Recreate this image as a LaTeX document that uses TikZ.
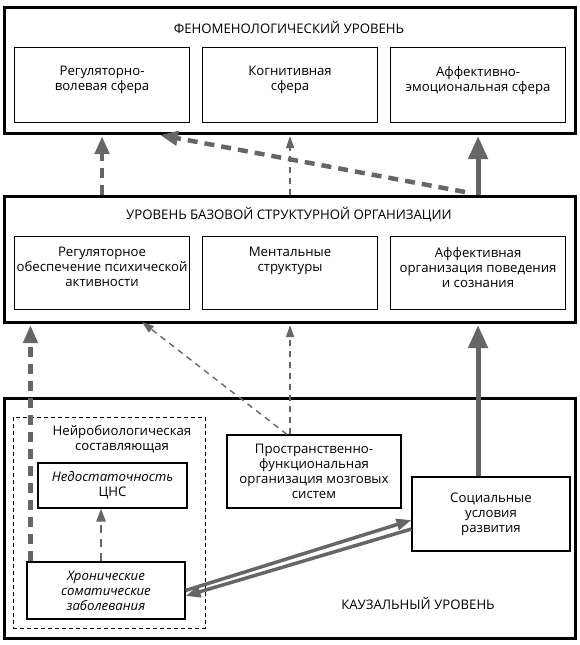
\documentclass[tikz,border=0pt]{standalone}
\usepackage{fontspec}
\setmainfont{Open Sans}
\usepackage{xcolor}
\usepackage{tikz}
\usetikzlibrary{positioning,arrows.meta,calc}
\definecolor{arrgray}{RGB}{102,102,102}

\begin{document}
\begin{tikzpicture}[x=1pt, y=-1pt,
    font=\fontsize{13.2}{15}\selectfont,
    levelbox/.style={draw, line width=2.6pt, anchor=north west, inner sep=0, minimum width=571},
    sphbox/.style={draw, line width=1.1pt, anchor=north west, inner sep=0, minimum width=175, minimum height=75},
    orgbox/.style={sphbox, minimum height=73},
    causebox/.style={draw, line width=1.1pt, align=center, inner sep=0},
    boxtext/.style={align=center, inner sep=0},
    bigdash/.style={draw=arrgray, line width=4.5pt, dash pattern=on 10pt off 7pt, -{Triangle[length=18pt,width=14pt]}},
    thindash/.style={draw=arrgray, line width=1.4pt, dash pattern=on 6pt off 5pt, -{Triangle[length=12pt,width=8pt]}},
    middash/.style={draw=arrgray, line width=2.5pt, dash pattern=on 8pt off 6pt, -{Triangle[length=13pt,width=9pt]}},
    bigsolid/.style={draw=arrgray, line width=5pt, -{Triangle[length=23pt,width=19pt]}},
    twin/.style={draw=arrgray, line width=3.5pt, -{Triangle[length=15pt,width=11pt]}}]
    \useasboundingbox (0,0) rectangle (580,645);

    \node[levelbox, minimum height=126] (phen) at (3,6) {};
    \node[boxtext] (phenT) at (289,28) {ФЕНОМЕНОЛОГИЧЕСКИЙ УРОВЕНЬ};
    \node[sphbox] (volSph) at (14,47) {};
    \node[sphbox] (kogSph) at (202,47) {};
    \node[sphbox] (affSph) at (390,47) {};
    \node[boxtext, below=19pt of volSph.north] (volT) {Регуляторно-\\волевая сфера};
    \node[boxtext, below=19pt of kogSph.north] (kogT) {Когнитивная\\сфера};
    \node[boxtext, below=19pt of affSph.north] (affT) {Аффективно-\\эмоциональная сфера};

    \node[levelbox, minimum height=126] (basic) at (3,195) {};
    \node[boxtext] (basicT) at (289,215) {УРОВЕНЬ БАЗОВОЙ СТРУКТУРНОЙ ОРГАНИЗАЦИИ};
    \node[orgbox] (regOrg) at (14,236) {};
    \node[orgbox] (mentStr) at (202,236) {};
    \node[orgbox] (affOrg) at (390,236) {};
    \node[boxtext, below=11pt of regOrg.north] (regT) {Регуляторное\\обеспечение психической\\активности};
    \node[boxtext, below=11pt of mentStr.north] (mentT) {Ментальные\\структуры};
    \node[boxtext, below=11pt of affOrg.north] (affOrgT) {Аффективная\\организация поведения\\и сознания};

    \node[levelbox, minimum height=240] (causal) at (3,397) {};
    \node[draw, line width=0.9pt, dash pattern=on 4pt off 3pt, anchor=north west, inner sep=0,
        minimum width=192, minimum height=211] (neuro) at (13,417) {};
    \node[boxtext] (neuroT) at (122,439.5) {Нейробиологическая\\составляющая};
    \node[causebox, minimum width=149, minimum height=45] (nedost) at (112.5,485.5) {\textit{Недостаточность}\\ЦНС};
    \node[causebox, minimum width=158, minimum height=57] (hron) at (106,590.5) {\textit{Хронические}\\\textit{соматические}\\\textit{заболевания}};
    \node[causebox, minimum width=174, minimum height=73] (prostr) at (314,471.5) {Пространственно-\\функциональная\\организация мозговых\\систем};
    \node[causebox, minimum width=158, minimum height=74] (social) at (491,514) {Социальные\\условия\\развития};
    \node[boxtext] (causT) at (418,603) {КАУЗАЛЬНЫЙ УРОВЕНЬ};

    \coordinate (diagStart) at (465,192);
    \coordinate (diagEnd) at (160,135);
    \coordinate (mentFoot) at (142,322);

    \draw[bigdash] (volSph.center |- basic.north) -- ([yshift=-1.5pt]volSph.center |- phen.south);
    \draw[thindash] (kogSph.center |- basic.north) -- ([yshift=-1.5pt]kogSph.center |- phen.south);
    \draw[bigsolid] (affSph.center |- basic.north) -- ([yshift=-1.5pt]affSph.center |- phen.south);
    \draw[bigdash] (diagStart) -- (diagEnd);

    \draw[bigdash] ([xshift=4pt]hron.north west) -- ([xshift=4pt,yshift=-1.5pt]hron.north west |- basic.south);
    \draw[thindash] ([xshift=-27pt]prostr.north) -- (mentFoot);
    \draw[thindash] (mentStr.center |- prostr.north) -- ([yshift=-1.5pt]mentStr.center |- basic.south);
    \draw[bigsolid] (affOrg.center |- social.north) -- ([yshift=-1.5pt]affOrg.center |- basic.south);

    \draw[middash] ([xshift=-5pt]hron.north) -- ([xshift=-5pt]hron.north |- nedost.south);
    \draw[twin] (hron.east) -- ([yshift=-6pt]social.west);
    \draw[twin] ([yshift=-15pt]social.west) -- ([yshift=-5.5pt]hron.east);
\end{tikzpicture}
\end{document}
